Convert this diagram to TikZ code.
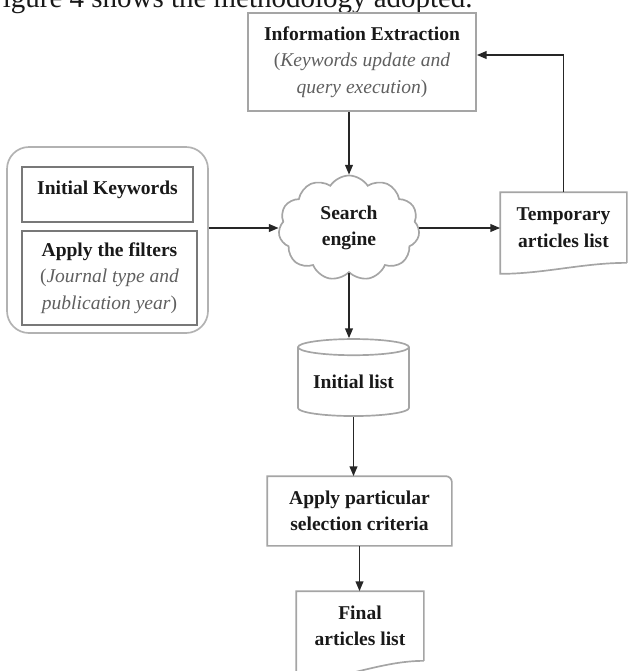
\documentclass[tikz,border=0pt]{standalone}
\usepackage{fontspec}
\setmainfont{Liberation Serif}
\usetikzlibrary{arrows.meta, shapes, positioning}

\definecolor{boxgray}{RGB}{165,165,165}
\definecolor{edgegray}{RGB}{120,120,120}
\definecolor{txtgray}{RGB}{95,95,95}

\begin{document}
\begin{tikzpicture}[>={Triangle[length=7pt,width=5.5pt]}, line width=1.2pt,
                    every node/.style={font=\fontsize{13.9}{18.9}\selectfont\bfseries, align=center, text=black!90},
                    block/.style={draw=boxgray, rectangle, inner sep=0pt},
                    innerblock/.style={draw=edgegray, rectangle, inner sep=0pt, line width=1.4pt},
                    group/.style={draw=boxgray!85, rectangle, rounded corners=0.55cm, inner sep=0pt},
                    blob/.style={cloud, cloud puffs=11, cloud puff arc=115, aspect=1.35, draw=boxgray, inner sep=0pt},
                    store/.style={cylinder, shape border rotate=90, aspect=0.2, draw=boxgray, inner sep=0pt},
                    plain/.style={rectangle, inner sep=0pt},
                    outline/.style={draw=boxgray},
                    link/.style={->, black!85}]

\useasboundingbox (0,0) rectangle (15.675,-16.775);

\node[anchor=base west, inner sep=0pt, font=\fontsize{20.6}{24}\selectfont] (caption) at (-0.35,-0.185) {Figure 4 shows the methodology adopted.};

\node[block, minimum width=5.7cm, minimum height=2.45cm] (info) at (9.05,-1.55)
  {Information Extraction\\{\mdseries\color{txtgray}(\textit{Keywords update and}}\\{\mdseries\color{txtgray}\textit{query execution})}};

\node[group, minimum width=5.025cm, minimum height=4.65cm] (grp) at (2.6875,-6.0) {};
\node[innerblock, minimum width=4.275cm, minimum height=1.375cm, text depth=0.33cm] (kw) at (2.6875,-4.8625) {Initial Keywords};
\node[innerblock, minimum width=4.375cm, minimum height=2.35cm] (filters) at (2.7375,-6.95)
  {Apply the filters\\{\mdseries\color{txtgray}(\textit{Journal type and}}\\{\mdseries\color{txtgray}\textit{publication year})}};

\node[blob, minimum width=3.525cm, minimum height=2.625cm] (engine) at (8.725,-5.7) {Search\\engine};

\node[plain, minimum width=3.125cm, minimum height=1.725cm] (temp) at (14.0875,-5.6875) {Temporary\\articles list};
\draw[outline] (temp.south east) -- (temp.north east) -- (temp.north west) -- ([yshift=-0.275cm]temp.south west)
  .. controls +(1.1,0) and +(-1.1,0) .. (temp.south east);

\node[store, minimum width=2.775cm, minimum height=1.925cm] (initlist) at (8.8375,-9.55) {Initial list};

\node[plain, minimum width=4.575cm, minimum height=1.7cm] (selcrit) at (8.9875,-12.775) {Apply particular\\selection criteria};
\draw[outline] (selcrit.north west) -- ([xshift=-0.15cm]selcrit.north east) arc[start angle=90, end angle=0, radius=0.15cm]
  -- (selcrit.south east) -- (selcrit.south west) -- cycle;

\node[plain, minimum width=3.15cm, minimum height=1.7cm] (final) at (9.0,-15.65) {Final\\articles list};
\draw[outline] (final.south east) -- (final.north east) -- (final.north west) -- ([yshift=-0.5cm]final.south west)
  .. controls +(1.1,0) and +(-1.1,0) .. (final.south east);

\draw[link] (info.south -| engine.north) -- (engine.north);
\draw[link] (grp.east |- engine.west) -- (engine.west);
\draw[link] (engine.east) -- (temp.west |- engine.east);
\draw[link] (temp.north) |- ([yshift=0.175cm]info.east);
\draw[link] (engine.south) -- (engine.south |- initlist.north);
\draw[link] (initlist.south) -- (initlist.south |- selcrit.north);
\draw[link] (selcrit.south) -- (selcrit.south |- final.north);

\end{tikzpicture}
\end{document}
